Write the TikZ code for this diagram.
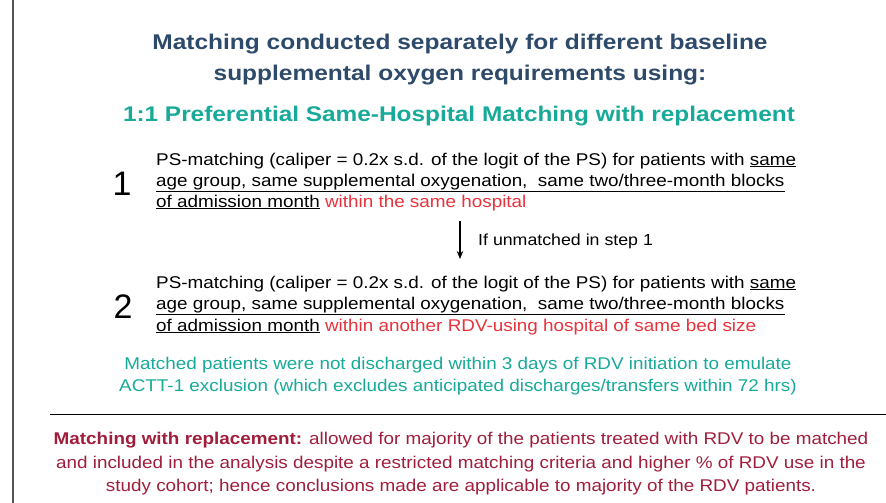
\documentclass[tikz,border=0pt]{standalone}
\usepackage{fontspec}
\usetikzlibrary{arrows.meta}
\setmainfont{Liberation Sans}
\newfontfamily\bodyfont[FakeStretch=1.11]{Liberation Sans}
\newfontfamily\headfont[FakeStretch=1.15]{Liberation Sans}
\definecolor{headblue}{HTML}{2E4A6A}
\definecolor{tealgreen}{HTML}{17AA98}
\definecolor{brightred}{HTML}{E8323C}
\definecolor{wine}{HTML}{A01E3C}
\definecolor{framegray}{HTML}{555555}
\tikzset{
  headline/.style={anchor=base, inner sep=0pt, text=headblue, font=\headfont\bfseries\fontsize{21.3}{25}\selectfont},
  subhead/.style={anchor=base, inner sep=0pt, text=tealgreen, font=\headfont\bfseries\fontsize{21.2}{25}\selectfont},
  stepline/.style={anchor=base west, inner sep=0pt, text=black, font=\bodyfont\fontsize{17}{21}\selectfont},
  steplabel/.style={anchor=base west, inner sep=0pt, text=black, font=\bodyfont\fontsize{16}{20}\selectfont},
  stepnum/.style={anchor=base, inner sep=0pt, text=black, font=\fontsize{34}{40}\selectfont},
  note/.style={anchor=base, inner sep=0pt, text=tealgreen, font=\bodyfont\fontsize{17}{21}\selectfont},
  footnote/.style={anchor=base, inner sep=0pt, text=wine, font=\bodyfont\fontsize{17}{21}\selectfont},
  flow/.style={-{Stealth[length=8pt,width=6.5pt]}, line width=1.2pt},
}
\newcommand{\ul}[1]{\underline{#1}}
\begin{document}
\begin{tikzpicture}[x=1pt,y=-1pt]
\useasboundingbox (0,0) rectangle (886,503);
% frame edge on the left
\draw[framegray, line width=1.3pt] (13,0) -- (13,503);

% heading
\node[headline] (h1) at (460,50) {Matching conducted separately for different baseline};
\node[headline] (h2) at (460,81) {supplemental oxygen requirements using:};
\node[subhead] (h3) at (459,121) {1:1 Preferential Same-Hospital Matching with replacement};

% step 1
\node[stepline] (a1) at (156,165) {PS-matching (caliper = 0.2x s.d. of the logit of the PS) for patients with \ul{same}};
\node[stepline] (a2) at (156,186) {\ul{age group, same supplemental oxygenation, \ same two/three-month blocks}};
\node[stepline] (a3) at (156,207) {\ul{of admission month} \textcolor{brightred}{within the same hospital}};
\node[stepnum] (n1) at (122,195) {1};

% transition
\coordinate (t1) at (460,221);
\coordinate (t2) at (460,259);
\draw[flow] (t1) -- (t2);
\node[steplabel] (tl) at (478,245) {If unmatched in step 1};

% step 2
\node[stepline] (b1) at (156,288) {PS-matching (caliper = 0.2x s.d. of the logit of the PS) for patients with \ul{same}};
\node[stepline] (b2) at (156,309) {\ul{age group, same supplemental oxygenation, \ same two/three-month blocks}};
\node[stepline] (b3) at (156,331) {\ul{of admission month} \textcolor{brightred}{within another RDV-using hospital of same bed size}};
\node[stepnum] (n2) at (123,318) {2};

% note
\node[note] (c1) at (458,369) {Matched patients were not discharged within 3 days of RDV initiation to emulate};
\node[note] (c2) at (458,391) {ACTT-1 exclusion (which excludes anticipated discharges/transfers within 72 hrs)};

% separator
\coordinate (r1) at (50,414);
\coordinate (r2) at (886,414);
\draw[line width=0.9pt] (r1) -- (r2);

% replacement remark
\node[footnote] (d1) at (461,444) {\textbf{Matching with replacement:} allowed for majority of the patients treated with RDV to be matched};
\node[footnote] (d2) at (461,468) {and included in the analysis despite a restricted matching criteria and higher \% of RDV use in the};
\node[footnote] (d3) at (461,491) {study cohort; hence conclusions made are applicable to majority of the RDV patients.};
\end{tikzpicture}
\end{document}
